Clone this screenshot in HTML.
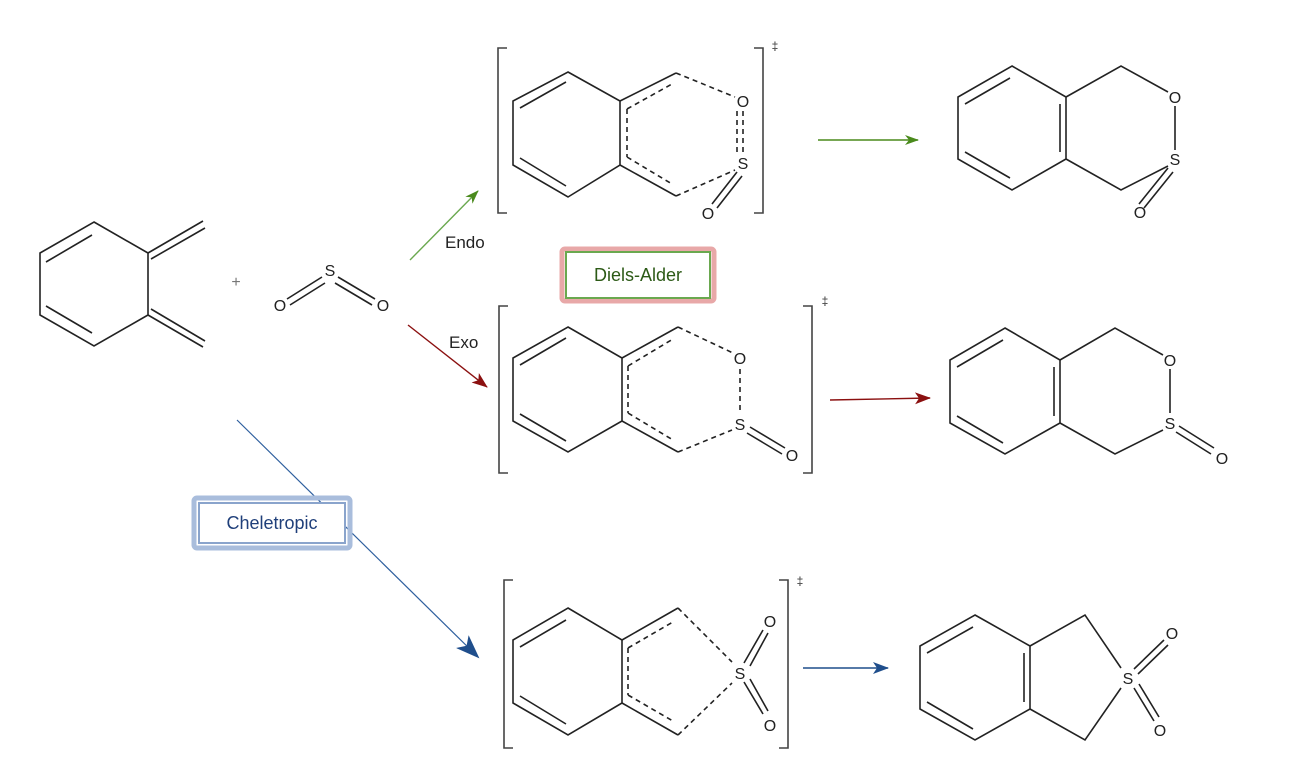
<!DOCTYPE html>
<html><head><meta charset="utf-8"><style>
html,body{margin:0;padding:0;background:#fff;width:1302px;height:783px;overflow:hidden}
svg{display:block}
text{font-family:"Liberation Sans",sans-serif}
</style></head><body>
<svg width="1302" height="783" viewBox="0 0 1302 783" xmlns="http://www.w3.org/2000/svg">
<defs>
<marker id="ag" markerWidth="14" markerHeight="10" refX="13" refY="5" orient="auto" markerUnits="userSpaceOnUse"><path d="M0,0 L14,5 L0,10 L4,5z" fill="#4a8a1c"/></marker>
<marker id="ar" markerWidth="16" markerHeight="12" refX="15" refY="6" orient="auto" markerUnits="userSpaceOnUse"><path d="M0,0 L16,6 L0,12 L4,6z" fill="#8b1010"/></marker>
<marker id="ab" markerWidth="16" markerHeight="12" refX="15" refY="6" orient="auto" markerUnits="userSpaceOnUse"><path d="M0,0 L16,6 L0,12 L4,6z" fill="#1f4e8c"/></marker>
<marker id="ab2" markerWidth="24" markerHeight="18" refX="22" refY="9" orient="auto" markerUnits="userSpaceOnUse"><path d="M0,0 L24,9 L0,18 L6,9z" fill="#1f4e8c"/></marker>
</defs>
<g stroke="#222" stroke-width="1.6" fill="none">
<path d="M94,222 L148,253 L148,315 L94,346 L40,315 L40,253 Z"/>
<path d="M46,262 L92,235 M46,306 L92,333"/>
<path d="M148,253 L203,221 M151,259 L205,228 M148,315 L203,347 M151,309 L205,341"/>
<path d="M287,299 L322,277 M290,305 L325,283 M338,277 L375,299 M335,283 L372,305"/>
<path d="M568,72 L620,101 L620,165 L568,197 L513,165 L513,101 Z"/>
<path d="M520,108 L566,82 M520,158 L566,186 M620,101 L676,73 M620,165 L676,196"/>
<g stroke-dasharray="5,4"><path d="M627,109 L672,84 M627,109 L627,157 M627,157 L672,184 M676,73 L735,97 M676,196 L735,170 M743,111 L743,152 M737,111 L737,152"/></g>
<path d="M737,172 L712,204 M742,176 L717,208"/>
<path d="M507,48 L498,48 L498,213 L507,213 M754,48 L763,48 L763,213 L754,213" stroke="#444"/>
<path d="M568,327 L622,358 L622,421 L568,452 L513,421 L513,358 Z"/>
<path d="M520,365 L566,338 M520,414 L566,441 M622,358 L678,327 M622,421 L678,452"/>
<g stroke-dasharray="5,4"><path d="M628,366 L673,339 M628,366 L628,413 M628,413 L673,440 M678,327 L733,353 M678,452 L732,430 M740,369 L740,412"/></g>
<path d="M750,427 L785,448 M747,433 L782,454"/>
<path d="M508,306 L499,306 L499,473 L508,473 M803,306 L812,306 L812,473 L803,473" stroke="#444"/>
<path d="M568,608 L622,640 L622,703 L568,735 L513,703 L513,640 Z"/>
<path d="M520,647 L566,620 M520,696 L566,724 M622,640 L678,608 M622,703 L678,735"/>
<g stroke-dasharray="5,4"><path d="M628,648 L673,622 M628,648 L628,695 M628,695 L673,721 M678,608 L732,662 M678,735 L732,683"/></g>
<path d="M744,663 L763,630 M750,666 L768,633 M744,682 L763,714 M750,679 L768,711"/>
<path d="M513,580 L504,580 L504,748 L513,748 M779,580 L788,580 L788,748 L779,748" stroke="#444"/>
<path d="M1012,66 L1066,97 L1066,159 L1012,190 L958,159 L958,97 Z"/>
<path d="M965,104 L1010,78 M965,152 L1010,178 M1060,104 L1060,152"/>
<path d="M1066,97 L1121,66 L1168,92 M1175,106 L1175,150 M1066,159 L1121,190 L1168,166 M1168,168 L1139,204 M1173,172 L1144,208"/>
<path d="M1005,328 L1060,360 L1060,423 L1005,454 L950,423 L950,360 Z"/>
<path d="M957,367 L1003,340 M957,416 L1003,443 M1054,367 L1054,416"/>
<path d="M1060,360 L1115,328 L1163,355 M1170,369 L1170,413 M1060,423 L1115,454 L1163,430 M1179,426 L1214,448 M1176,432 L1211,454"/>
<path d="M975,615 L1030,646 L1030,709 L975,740 L920,709 L920,646 Z"/>
<path d="M927,653 L973,627 M927,702 L973,729 M1024,653 L1024,702"/>
<path d="M1030,646 L1085,615 L1121,668 M1030,709 L1085,740 L1121,688 M1134,669 L1164,640 M1138,674 L1168,645 M1134,688 L1154,721 M1139,684 L1159,717"/>
</g>
<g font-size="16" fill="#222" text-anchor="middle">
<text x="330" y="276">S</text><text x="280" y="311">O</text><text x="383" y="311">O</text>
<text x="743" y="107">O</text><text x="743" y="169">S</text><text x="708" y="219">O</text>
<text x="740" y="364">O</text><text x="740" y="430">S</text><text x="792" y="461">O</text>
<text x="740" y="679">S</text><text x="770" y="627">O</text><text x="770" y="731">O</text>
<text x="1175" y="103">O</text><text x="1175" y="165">S</text><text x="1140" y="218">O</text>
<text x="1170" y="366">O</text><text x="1170" y="429">S</text><text x="1222" y="464">O</text>
<text x="1128" y="684">S</text><text x="1172" y="639">O</text><text x="1160" y="736">O</text>
</g>
<g font-size="12" fill="#333" text-anchor="middle">
<text x="775" y="50">‡</text><text x="825" y="305">‡</text><text x="800" y="585">‡</text>
</g>
<text x="236" y="287" font-size="16" fill="#777" text-anchor="middle">+</text>
<text x="445" y="248" font-size="17" fill="#222">Endo</text>
<text x="449" y="348" font-size="17" fill="#222">Exo</text>
<line x1="410" y1="260" x2="478" y2="191" stroke="#6aa84f" stroke-width="1.4" marker-end="url(#ag)"/>
<line x1="408" y1="325" x2="487" y2="387" stroke="#8b1010" stroke-width="1.4" marker-end="url(#ar)"/>
<line x1="237" y1="420" x2="478" y2="657" stroke="#2e5f9e" stroke-width="1.2" marker-end="url(#ab2)"/>
<line x1="818" y1="140" x2="918" y2="140" stroke="#4a8a1c" stroke-width="1.4" marker-end="url(#ag)"/>
<line x1="830" y1="400" x2="930" y2="398" stroke="#8b1010" stroke-width="1.4" marker-end="url(#ar)"/>
<line x1="803" y1="668" x2="888" y2="668" stroke="#1f4e8c" stroke-width="1.4" marker-end="url(#ab)"/>
<rect x="562" y="249" width="152" height="52" fill="none" stroke="#e8a8a8" stroke-width="5" rx="3"/>
<rect x="566" y="252" width="144" height="46" fill="#fff" stroke="#6aa84f" stroke-width="2"/>
<text x="638" y="281" font-size="18" fill="#2c5a16" text-anchor="middle">Diels-Alder</text>
<rect x="194" y="498" width="156" height="50" fill="none" stroke="#a9bddc" stroke-width="5" rx="3"/>
<rect x="199" y="503" width="146" height="40" fill="#fff" stroke="#8aa4cc" stroke-width="2"/>
<text x="272" y="529" font-size="18" fill="#1f3f7a" text-anchor="middle">Cheletropic</text>
</svg>
</body></html>
